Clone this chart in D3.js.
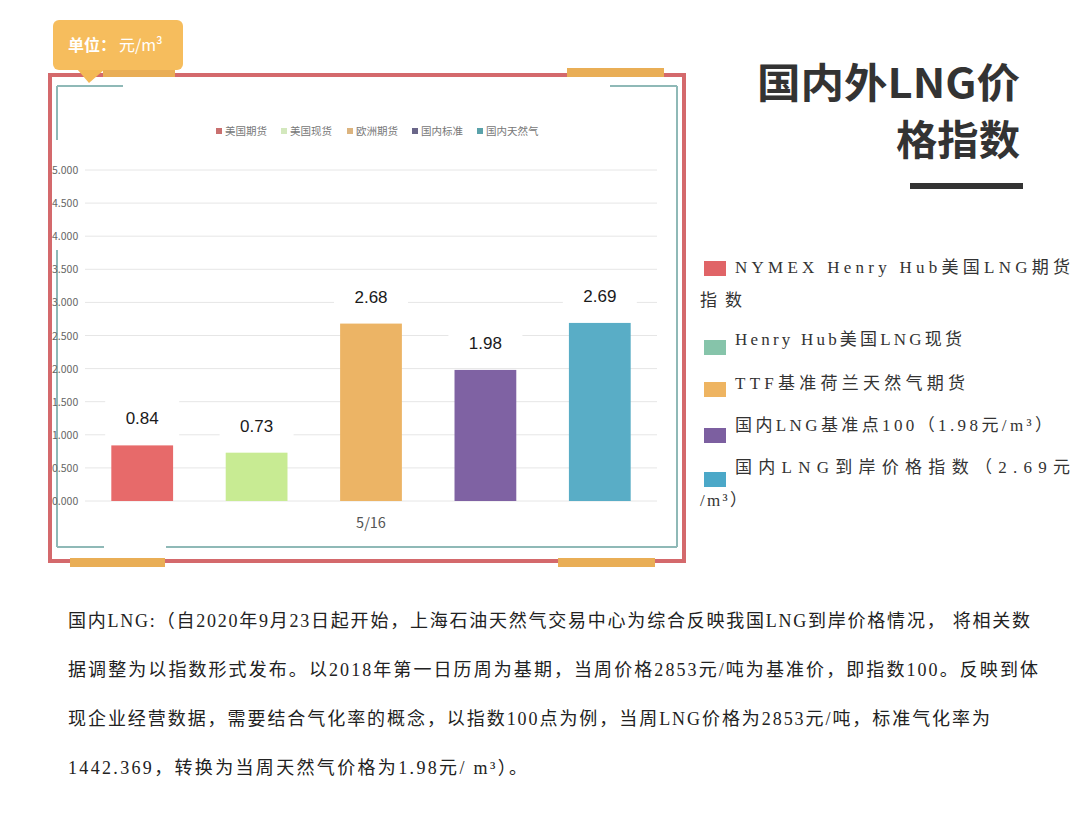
<!DOCTYPE html>
<html><head><meta charset="utf-8">
<script src="https://cdn.jsdelivr.net/npm/d3@7"></script>
<style>
html,body{margin:0;padding:0;background:#fff;}
svg{display:block;}
</style></head>
<body>
<svg id="c" width="1080" height="827"></svg>
<script>
// ---- data ----
const categories = ["美国期货","美国现货","欧洲期货","国内标准","国内天然气"];
const values = [0.84, 0.73, 2.68, 1.98, 2.69];
const valueLabels = ["0.84","0.73","2.68","1.98","2.69"];
const barColors = ["#e76a6a","#c8eb93","#ecb465","#7f62a3","#59adc6"];
const legendColors = ["#c9706f","#d3e8bd","#dcb47f","#6a6689","#5aa2aa"];
const yTicks = [0,0.5,1,1.5,2,2.5,3,3.5,4,4.5,5];
const xLabel = "5/16";
const unitLabel = ["单位：","元/m³"];
const titleLines = ["国内外LNG价","格指数"];
const sideLegend = [
  {color:"#e06467", lines:["NYMEX Henry Hub美国LNG期货","指数"]},
  {color:"#86c4aa", lines:["Henry Hub美国LNG现货"]},
  {color:"#eeb461", lines:["TTF基准荷兰天然气期货"]},
  {color:"#7c5fa0", lines:["国内LNG基准点100（1.98元/m³）"]},
  {color:"#4ba8c8", lines:["国内LNG到岸价格指数（2.69元","/m³）"]}
];
const paragraph = [
  "国内LNG:（自2020年9月23日起开始，上海石油天然气交易中心为综合反映我国LNG到岸价格情况， 将相关数",
  "据调整为以指数形式发布。以2018年第一日历周为基期，当周价格2853元/吨为基准价，即指数100。反映到体",
  "现企业经营数据，需要结合气化率的概念，以指数100点为例，当周LNG价格为2853元/吨，标准气化率为",
  "1442.369，转换为当周天然气价格为1.98元/ m³）。"
];

// ---- layout ----
const svg = d3.select("#c");
const sans = "'Noto Sans CJK SC','Noto Sans',sans-serif";
const serif = "'Liberation Serif','Noto Sans CJK SC',serif";

// frame: red outer border
svg.append("rect").attr("x",50).attr("y",75).attr("width",634).attr("height",486)
  .attr("fill","none").attr("stroke","#d4696c").attr("stroke-width",4);
// orange strips
[[103,68,72],[567,68,97],[70,558,95],[558,558,97]].forEach(s=>{
  svg.append("rect").attr("x",s[0]).attr("y",s[1]).attr("width",s[2]).attr("height",9).attr("fill","#e9ae56");
});
// teal inner frame segments
const teal = "#8fb9b7";
const segs = [[57,86,123,86],[610,86,677,86],[57,86,57,140],[57,250,57,547],[57,547,104,547],[166,547,677,547],[677,86,677,547]];
segs.forEach(s=>svg.append("line").attr("x1",s[0]).attr("y1",s[1]).attr("x2",s[2]).attr("y2",s[3])
  .attr("stroke",teal).attr("stroke-width",2));

// callout
svg.append("path").attr("d","M77,69 L105,69 L89,83 Z").attr("fill","#f4b955");
svg.append("rect").attr("x",53).attr("y",20).attr("width",130).attr("height",50).attr("rx",6).attr("fill","#f6bd5d");
const ut = svg.append("text").attr("x",68).attr("y",51).attr("font-family",sans).attr("font-size",16).attr("fill","#fff");
ut.append("tspan").attr("font-weight","bold").text(unitLabel[0]);
ut.append("tspan").attr("dx",3).text(unitLabel[1]);

// chart scales
const x = d3.scaleBand().domain(categories).range([85,657]).paddingInner(0.46).paddingOuter(0.23);
const y = d3.scaleLinear().domain([0,5]).range([501,170]);

// gridlines
svg.append("g").selectAll("line").data(yTicks).join("line")
  .attr("x1",85).attr("x2",657).attr("y1",d=>y(d)).attr("y2",d=>y(d))
  .attr("stroke","#e6e6e6").attr("stroke-width",1);
// y tick labels
svg.append("g").selectAll("text").data(yTicks).join("text")
  .attr("x",52).attr("y",d=>y(d)+4).attr("font-family",sans).attr("font-size",10.5)
  .attr("fill","#666").text(d=>d3.format(".3f")(d));

// top legend
const lg = svg.append("g");
const lx = [216,281,347,412,477];
categories.forEach((c,i)=>{
  lg.append("rect").attr("x",lx[i]).attr("y",128).attr("width",6).attr("height",6).attr("fill",legendColors[i]);
  lg.append("text").attr("x",lx[i]+9).attr("y",135).attr("font-family",sans).attr("font-size",10.5)
    .attr("fill","#777").text(c);
});

// bars
svg.append("g").selectAll("rect").data(values).join("rect")
  .attr("x",(d,i)=>x(categories[i])).attr("width",x.bandwidth())
  .attr("y",d=>y(d)).attr("height",d=>y(0)-y(d)).attr("fill",(d,i)=>barColors[i]);
// label boxes + labels
const lb = svg.append("g");
values.forEach((v,i)=>{
  const cx = x(categories[i]) + x.bandwidth()/2;
  lb.append("rect").attr("x",cx-37).attr("y",y(v)-48).attr("width",74).attr("height",46).attr("fill","#fff");
  lb.append("text").attr("x",cx).attr("y",y(v)-21).attr("text-anchor","middle")
    .attr("font-family","'Liberation Sans',Arial,sans-serif").attr("font-size",17).attr("fill","#1a1a1a")
    .text(valueLabels[i]);
});
// x label
svg.append("text").attr("x",x.range()[0]+(x.range()[1]-x.range()[0])/2).attr("y",528).attr("text-anchor","middle")
  .attr("font-family",sans).attr("font-size",14.5).attr("fill","#555").text(xLabel);

// title
svg.append("text").attr("x",1020).attr("y",98).attr("text-anchor","end").attr("font-family",sans)
  .attr("font-weight","bold").attr("font-size",41).attr("fill","#333")
  .attr("textLength",263).attr("lengthAdjust","spacingAndGlyphs").text(titleLines[0]);
svg.append("text").attr("x",1020).attr("y",155).attr("text-anchor","end").attr("font-family",sans)
  .attr("font-weight","bold").attr("font-size",41).attr("fill","#333")
  .attr("textLength",124).attr("lengthAdjust","spacingAndGlyphs").text(titleLines[1]);
svg.append("rect").attr("x",910).attr("y",183).attr("width",113).attr("height",6).attr("fill","#333");

// side legend
const sideY = [267,339,383,425,467];
const sideSq = [261,340,382,428,472];
const sideW = [[335,42],[227],[230],[317],[335,47]];
sideLegend.forEach((it,i)=>{
  svg.append("rect").attr("x",704).attr("y",sideSq[i]).attr("width",22).attr("height",15).attr("fill",it.color);
  it.lines.forEach((ln,j)=>{
    svg.append("text").attr("x",j===0?735:700).attr("y",sideY[i]+6+j*33)
      .attr("font-family",serif).attr("font-size",17).attr("fill","#333")
      .attr("textLength",sideW[i][j]).attr("lengthAdjust","spacing").text(ln);
  });
});

// paragraph
const pY = [627,676,725,774];
const pW = [962,970,922,459];
paragraph.forEach((ln,i)=>{
  svg.append("text").attr("x",68).attr("y",pY[i]).attr("font-family",serif).attr("font-size",18)
    .attr("fill","#222").attr("textLength",pW[i]).attr("lengthAdjust","spacing").text(ln);
});
</script>
</body></html>
